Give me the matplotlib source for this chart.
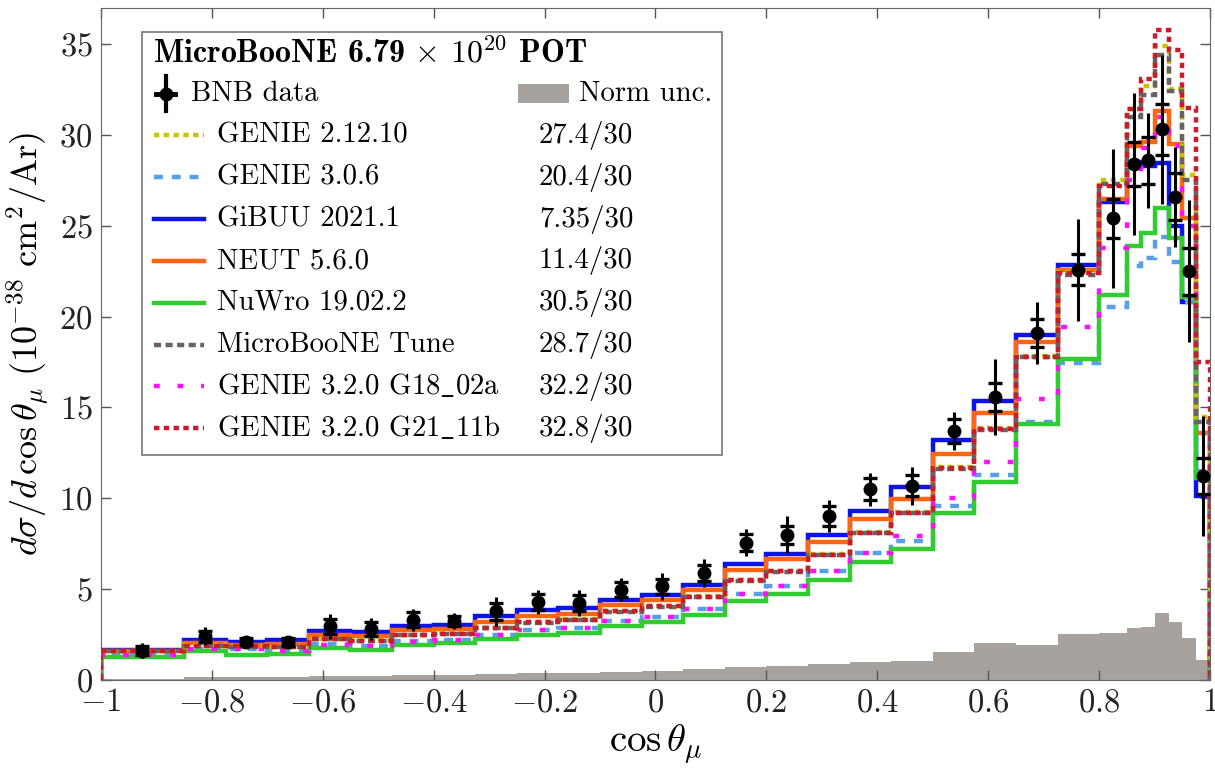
import matplotlib
matplotlib.use('Agg')
import matplotlib.pyplot as plt
import matplotlib.ticker as ticker
import numpy as np
from matplotlib.patches import Rectangle
from matplotlib.lines import Line2D

plt.rcParams['font.family'] = 'cmr10'
plt.rcParams['mathtext.fontset'] = 'cm'
plt.rcParams['axes.formatter.use_mathtext'] = True

# bordes de los bins en cos(theta_mu)
edges = np.array([-1.0, -0.85, -0.775, -0.7, -0.625, -0.55, -0.475, -0.4, -0.325, -0.25,
                  -0.175, -0.1, -0.025, 0.05, 0.125, 0.2, 0.275, 0.35, 0.425, 0.5,
                  0.575, 0.65, 0.725, 0.8, 0.85, 0.875, 0.9, 0.925, 0.95, 0.975, 1.0])

# datos BNB con error estadistico (interno) y total (externo)
data = [1.62, 2.4, 2.1, 2.1, 2.95, 2.8, 3.32, 3.25, 3.78, 4.29,
        4.24, 4.98, 5.16, 5.9, 7.56, 8.0, 9.03, 10.5, 10.7, 13.7,
        15.57, 19.1, 22.57, 25.4, 28.4, 28.6, 30.3, 26.6, 22.5, 11.24]
err_stat = [0.25, 0.3, 0.2, 0.22, 0.4, 0.38, 0.4, 0.3, 0.45, 0.42,
            0.42, 0.4, 0.42, 0.45, 0.45, 0.5, 0.55, 0.6, 0.6, 0.65,
            0.75, 0.75, 0.85, 1.1, 1.2, 1.3, 1.4, 1.3, 1.3, 1.0]
err_tot = [0.4, 0.5, 0.3, 0.35, 0.7, 0.6, 0.6, 0.42, 0.78, 0.64,
           0.72, 0.64, 0.73, 0.78, 0.76, 1.0, 0.87, 0.9, 1.05, 1.05,
           2.1, 1.7, 2.8, 3.8, 3.9, 2.6, 4.1, 2.75, 3.9, 3.3]

# incertidumbre de normalizacion
norm_unc = [0.07, 0.14, 0.15, 0.17, 0.24, 0.24, 0.28, 0.29, 0.33, 0.38,
            0.38, 0.45, 0.51, 0.61, 0.70, 0.77, 0.88, 1.01, 1.05, 1.56,
            2.06, 1.93, 2.52, 2.57, 2.88, 2.92, 3.67, 3.17, 2.3, 1.1]

# predicciones de los generadores
genie_2_12 = [1.6, 1.9, 1.86, 1.84, 2.27, 2.18, 2.5, 2.57, 2.88, 3.19,
              3.34, 3.8, 4.07, 4.6, 5.52, 6.02, 6.93, 8.13, 9.25, 11.7,
              13.87, 17.85, 22.45, 27.5, 31.4, 32.7, 34.9, 32.5, 27.8, 14.5]
genie_3_0_6 = [1.4, 1.7, 1.68, 1.6, 1.97, 1.87, 2.13, 2.19, 2.5, 2.74,
               2.87, 3.27, 3.46, 3.9, 4.75, 5.2, 5.99, 7.0, 7.65, 9.58,
               11.28, 14.2, 17.47, 20.55, 22.8, 23.2, 24.4, 23.0, 20.8, 11.5]
gibuu = [1.65, 2.21, 2.12, 2.18, 2.71, 2.62, 2.95, 3.04, 3.5, 3.83,
         3.96, 4.42, 4.66, 5.25, 6.41, 6.96, 7.96, 9.3, 10.6, 13.2,
         15.33, 18.98, 22.85, 26.3, 28.5, 28.3, 28.45, 25.0, 20.8, 10.1]
neut = [1.6, 2.03, 1.95, 2.0, 2.49, 2.4, 2.73, 2.8, 3.17, 3.54,
        3.65, 4.15, 4.38, 4.98, 6.08, 6.67, 7.59, 8.87, 9.95, 12.44,
        14.7, 18.6, 22.57, 26.5, 29.4, 29.6, 31.3, 29.5, 25.4, 13.6]
nuwro = [1.25, 1.57, 1.38, 1.43, 1.76, 1.67, 1.95, 2.03, 2.25, 2.49,
         2.61, 2.95, 3.17, 3.59, 4.33, 4.75, 5.53, 6.49, 7.23, 9.18,
         10.9, 14.1, 17.65, 21.2, 23.9, 24.6, 26.0, 24.35, 21.1, 11.1]
tune = [1.57, 1.87, 1.84, 1.81, 2.24, 2.15, 2.47, 2.53, 2.84, 3.15,
        3.3, 3.76, 4.03, 4.55, 5.47, 5.97, 6.88, 8.08, 9.18, 11.6,
        13.78, 17.75, 22.3, 27.3, 31.0, 32.2, 34.4, 32.4, 27.5, 14.2]
g18_02a = [1.38, 1.7, 1.69, 1.58, 1.95, 1.85, 2.12, 2.18, 2.49, 2.73,
           2.86, 3.26, 3.46, 3.9, 4.75, 5.2, 5.99, 7.0, 7.9, 10.04,
           12.0, 15.48, 19.44, 23.8, 27.5, 29.3, 31.0, 29.4, 25.0, 14.7]
g21_11b = [1.6, 1.88, 1.85, 1.82, 2.25, 2.16, 2.49, 2.55, 2.86, 3.17,
           3.32, 3.78, 4.05, 4.57, 5.49, 5.99, 6.9, 8.1, 9.21, 11.65,
           13.82, 17.8, 22.39, 27.2, 31.4, 33.1, 35.8, 34.7, 31.5, 17.5]

nombres = ['GENIE 2.12.10', 'GENIE 3.0.6', 'GiBUU 2021.1', 'NEUT 5.6.0',
           'NuWro 19.02.2', 'MicroBooNE Tune', r'GENIE 3.2.0 G18$\_$02a',
           r'GENIE 3.2.0 G21$\_$11b']
chi2 = ['27.4/30', '20.4/30', '7.35/30', '11.4/30', '30.5/30', '28.7/30',
        '32.2/30', '32.8/30']

modelos = [genie_2_12, genie_3_0_6, gibuu, neut, nuwro, tune, g18_02a, g21_11b]
colores = ['#c8c400', '#5a9ee6', '#0c14e8', '#ff6410', '#30cc30', '#6a6262',
           '#ff10ff', '#cc1a2c']
estilos = [(0, (1.2, 1.0)), (0, (2.0, 2.0)), '-', '-', '-', (0, (1.6, 1.0)),
           (0, (1.3, 4.0)), (0, (1.2, 1.0))]
orden = [6, 4, 3, 5, 5, 7, 5, 8]
gris = '#a8a29f'
fs_ley = 20.7

fig = plt.figure(figsize=(12.15, 7.71), dpi=100)
ax = fig.add_axes([0.083, 0.118, 0.913, 0.872])

ax.stairs(norm_unc, edges, fill=True, color=gris, zorder=1)
for y, c, ls, z in zip(modelos, colores, estilos, orden):
    ax.stairs(y, edges, baseline=0, color=c, lw=3.2, linestyle=ls, zorder=z)

centros = 0.5 * (edges[:-1] + edges[1:])
ax.errorbar(centros, data, yerr=err_tot, fmt='none', ecolor='k', elinewidth=2.2,
            capsize=0, zorder=10)
ax.errorbar(centros, data, yerr=err_stat, fmt='o', color='k', ms=9, elinewidth=2.2,
            capsize=5, capthick=2.4, zorder=11)

ax.set_xlim(-1, 1)
ax.set_ylim(0, 37)
ax.set_xticks(np.arange(-1, 1.01, 0.2))
ax.set_yticks(np.arange(0, 36, 5))
ax.xaxis.set_major_formatter(ticker.FuncFormatter(lambda v, p: '$%g$' % (round(v, 2) + 0.0)))
ax.tick_params(direction='in', length=7, width=1, top=True, right=True,
               labelsize=23.5, colors='#555555', labelcolor='#222222', pad=6)
for s in ax.spines.values():
    s.set_color('#666666')
ax.set_xlabel(r'$\cos\theta_\mu$', fontsize=28, labelpad=4)
ax.set_ylabel(r'$d\sigma/d\,\cos\theta_\mu\ (10^{-38}\ \mathrm{cm}^2/\mathrm{Ar})$',
              fontsize=26, labelpad=6)

# leyenda dibujada a mano dentro de los ejes
tr = ax.transAxes
ax.add_patch(Rectangle((0.037, 0.335), 0.523, 0.629, transform=tr, fc='white',
                       ec='#777777', lw=1.2, zorder=20))
ax.text(0.0469, 0.934, r'MicroBooNE 6.79 $\times$ $\mathbf{10^{20}}$ POT', transform=tr,
        fontfamily='cmb10', fontsize=23, va='center', zorder=21)
yb = 0.872
ax.add_line(Line2D([0.0586], [yb], marker='o', ms=9, color='k', transform=tr, zorder=21))
ax.add_line(Line2D([0.0586, 0.0586], [yb - 0.026, yb + 0.026], color='k', lw=3,
                   transform=tr, zorder=21))
ax.add_line(Line2D([0.050, 0.067], [yb, yb], color='k', lw=3.5, transform=tr, zorder=21))
ax.text(0.0812, yb, 'BNB data', transform=tr, fontsize=fs_ley, va='center', zorder=21)
ax.add_patch(Rectangle((0.3764, yb - 0.014), 0.046, 0.028, transform=tr, fc=gris,
                       ec='none', zorder=21))
ax.text(0.431, yb, 'Norm unc.', transform=tr, fontsize=fs_ley, va='center', zorder=21)

y0 = 0.810
paso = 0.0622
for i in range(len(nombres)):
    yy = y0 - i * paso
    ax.add_line(Line2D([0.0478, 0.0926], [yy, yy], color=colores[i], lw=3.2,
                       linestyle=estilos[i], transform=tr, zorder=21))
    ax.text(0.1046, yy, nombres[i], transform=tr, fontsize=fs_ley, va='center', zorder=21)
    ax.text(0.395, yy, chi2[i], transform=tr, fontsize=fs_ley, va='center', zorder=21)

plt.savefig('out.png', dpi=100)
